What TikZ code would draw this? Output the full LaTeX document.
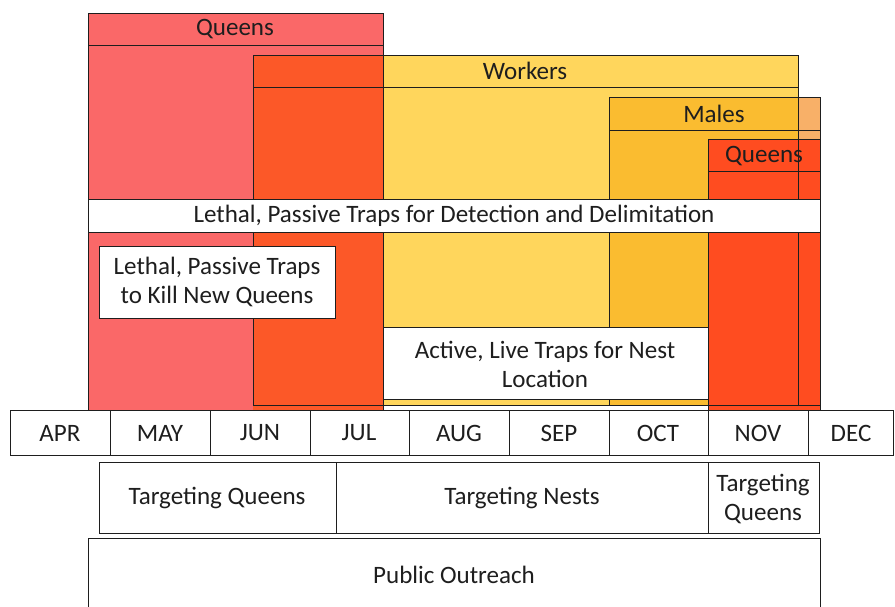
\documentclass[tikz,border=0pt]{standalone}
\usepackage{fontspec}
\setmainfont{Carlito}
\usepackage{xcolor}
\definecolor{queenpink}{RGB}{250,104,104}
\definecolor{queenwork}{RGB}{252,88,40}
\definecolor{workyellow}{RGB}{255,214,92}
\definecolor{malesorange}{RGB}{250,188,48}
\definecolor{malespale}{RGB}{248,176,104}
\definecolor{fallred}{RGB}{255,76,32}
\definecolor{inkgray}{RGB}{30,30,30}

\tikzset{
  bar/.style={draw=inkgray, line width=0.7pt},
  labelbox/.style={draw=inkgray, line width=0.7pt, fill=white},
  every node/.style={font=\fontsize{17.8}{20.6}\selectfont, text=inkgray, align=center, inner sep=0pt}
}

\begin{document}
\begin{tikzpicture}[x=0.025cm, y=-0.025cm]
            \useasboundingbox (0,0) rectangle (895,606);
            \fill[white] (0,0) rectangle (895,606);

            % caste bars
            \fill[queenpink] (88,13) rectangle (383,410);
            \fill[workyellow] (253,55) rectangle (798,405);
            \fill[queenwork] (253,55) rectangle (383,410);
            \fill[malesorange] (609,97) rectangle (798,405);
            \fill[malespale] (798,97) rectangle (820,139);
            \fill[fallred] (708,139) rectangle (820,410);

            \draw[bar] (88,13) rectangle (383,410);
            \draw[bar] (88,45) -- (383,45);
            \draw[bar] (253,55) rectangle (798,405);
            \draw[bar] (253,87) -- (798,87);
            \draw[bar] (609,97) rectangle (820,405);
            \draw[bar] (609,130) -- (820,130);
            \draw[bar] (708,139) rectangle (820,410);
            \draw[bar] (708,171) -- (820,171);

            \node (queensA) at (235,29) {Queens};
            \node (workers) at (525,71) {Workers};
            \node (males) at (714,114) {Males};
            \node (queensB) at (764,156) {Queens};

            % traps
            \draw[labelbox] (88,199) rectangle (820,232);
            \node (detect) at (454,216) {Lethal, Passive Traps for Detection and Delimitation};
            \draw[labelbox] (99,246) rectangle (335,318);
            \node (kill) at (217,282) {Lethal, Passive Traps\\to Kill New Queens};
            \draw[labelbox] (383,327) rectangle (708,399);
            \node (active) at (545,364) {Active, Live Traps for Nest\\Location};

            % months
            \draw[labelbox] (10,410) rectangle (110,455);
            \node (apr) at (60,433) {APR};
            \draw[labelbox] (110,410) rectangle (210,455);
            \node (may) at (160,433) {MAY};
            \draw[labelbox] (210,410) rectangle (310,455);
            \node (jun) at (260,433) {JUN};
            \draw[labelbox] (310,410) rectangle (409,455);
            \node (jul) at (359,433) {JUL};
            \draw[labelbox] (409,410) rectangle (509,455);
            \node (aug) at (459,433) {AUG};
            \draw[labelbox] (509,410) rectangle (609,455);
            \node (sep) at (559,433) {SEP};
            \draw[labelbox] (609,410) rectangle (708,455);
            \node (oct) at (658,433) {OCT};
            \draw[labelbox] (708,410) rectangle (808,455);
            \node (nov) at (758,433) {NOV};
            \draw[labelbox] (808,410) rectangle (893,455);
            \node (dec) at (851,433) {DEC};

            % targeting
            \draw[labelbox] (99,462) rectangle (336,533);
            \node (tqueensA) at (217,498) {Targeting Queens};
            \draw[labelbox] (336,462) rectangle (708,533);
            \node (tnests) at (522,498) {Targeting Nests};
            \draw[labelbox] (708,462) rectangle (819,533);
            \node (tqueensB) at (763,499) {Targeting\\Queens};

            \draw[labelbox] (88,538) rectangle (820,614);
            \node (outreach) at (454,575) {Public Outreach};
        \end{tikzpicture}
\end{document}
